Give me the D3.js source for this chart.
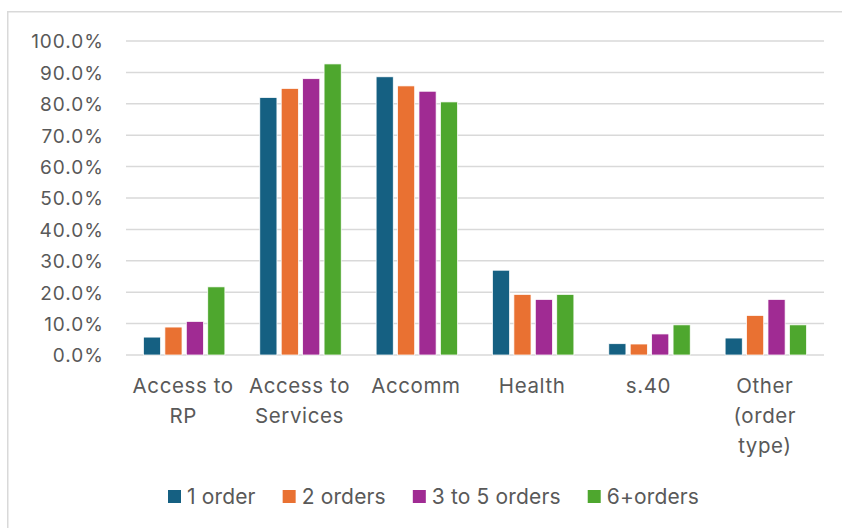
<!DOCTYPE html>
<html>
<head>
<meta charset="utf-8">
<script src="https://cdn.jsdelivr.net/npm/d3@7"></script>
<style>
  html, body { margin: 0; padding: 0; background: #fff; }
  svg { display: block; }
  text { font-family: Inter, "Liberation Sans", Arial, sans-serif; fill: #595959; }
</style>
</head>
<body>
<svg id="chart" width="842" height="528"></svg>
<script>
// Category labels (multi-line where the label wraps)
const categories = [
  ["Access to", "RP"],
  ["Access to", "Services"],
  ["Accomm"],
  ["Health"],
  ["s.40"],
  ["Other", "(order", "type)"]
];
const seriesNames = ["1 order", "2 orders", "3 to 5 orders", "6+orders"];
const seriesColors = ["#156082", "#E97132", "#A02B93", "#4EA72E"];

// Share of cases (%) per category, one array per series
const oneOrder     = [5.7, 82.0, 88.6, 27.0, 3.6, 5.4];
const twoOrders    = [8.9, 84.9, 85.7, 19.3, 3.5, 12.6];
const threeToFive  = [10.7, 88.0, 84.0, 17.7, 6.7, 17.7];
const sixPlus      = [21.7, 92.7, 80.6, 19.3, 9.6, 9.6];
const seriesValues = [oneOrder, twoOrders, threeToFive, sixPlus];

const yTicks = [0, 10, 20, 30, 40, 50, 60, 70, 80, 90, 100];

const svg = d3.select("#chart");
const W = 842, H = 528;

// Chart frame
svg.append("rect")
  .attr("x", 7.75).attr("y", 11.75)
  .attr("width", W + 10).attr("height", H + 10)
  .attr("fill", "#fff")
  .attr("stroke", "#d9d9d9").attr("stroke-width", 1.5);

const plot = { left: 126, right: 824, top: 41, bottom: 355 };

const catKeys = categories.map(c => c.join(" "));
const x0 = d3.scaleBand()
  .domain(catKeys)
  .range([plot.left, plot.right])
  .paddingInner(0.3)
  .paddingOuter(0.15);

const x1 = d3.scaleBand()
  .domain(seriesNames)
  .range([0, x0.bandwidth()])
  .paddingInner(0.2)
  .paddingOuter(0);

const y = d3.scaleLinear().domain([0, 100]).range([plot.bottom, plot.top]);

// Gridlines
svg.append("g")
  .selectAll("line")
  .data(yTicks)
  .join("line")
  .attr("x1", plot.left).attr("x2", plot.right)
  .attr("y1", d => y(d)).attr("y2", d => y(d))
  .attr("stroke", "#d9d9d9").attr("stroke-width", 1.5);

// Y axis labels
const yAxis = d3.axisLeft(y)
  .tickValues(yTicks)
  .tickSize(0)
  .tickPadding(0)
  .tickFormat(d => d3.format(".1f")(d) + "%");
const yg = svg.append("g")
  .attr("transform", `translate(${plot.left - 22},0)`)
  .call(yAxis);
yg.select(".domain").remove();
yg.selectAll("text")
  .style("font-family", "Inter, 'Liberation Sans', Arial, sans-serif")
  .attr("font-size", 19)
  .attr("letter-spacing", 1)
  .attr("fill", "#595959")
  .attr("dy", "0.36em");

// Bars
const groups = svg.append("g")
  .selectAll("g")
  .data(catKeys)
  .join("g")
  .attr("transform", d => `translate(${x0(d)},0)`);

groups.selectAll("rect")
  .data((d, i) => seriesNames.map((s, j) => ({ s, j, v: seriesValues[j][i] })))
  .join("rect")
  .attr("x", d => x1(d.s))
  .attr("width", x1.bandwidth())
  .attr("y", d => y(d.v))
  .attr("height", d => y(0) - y(d.v))
  .attr("fill", d => seriesColors[d.j])
  .attr("stroke", "#fff").attr("stroke-width", 0.75);

// Category labels
const catG = svg.append("g");
categories.forEach((lines, i) => {
  const cx = x0(catKeys[i]) + x0.bandwidth() / 2 - 1;
  const t = catG.append("text")
    .attr("text-anchor", "middle")
    .attr("font-size", 20.5)
    .attr("letter-spacing", 0.6);
  lines.forEach((ln, k) => {
    t.append("tspan")
      .attr("x", cx)
      .attr("y", 393 + k * 30)
      .text(ln);
  });
});

// Legend
const legend = svg.append("g").attr("transform", "translate(168,0)");
let lx = 0;
seriesNames.forEach((name, j) => {
  legend.append("rect")
    .attr("x", lx).attr("y", 490)
    .attr("width", 13).attr("height", 13)
    .attr("fill", seriesColors[j]);
  const t = legend.append("text")
    .attr("x", lx + 19).attr("y", 504)
    .attr("font-size", 21)
    .attr("letter-spacing", 0.15)
    .text(name);
  lx += 19 + t.node().getComputedTextLength() + 27;
});
</script>
</body>
</html>
